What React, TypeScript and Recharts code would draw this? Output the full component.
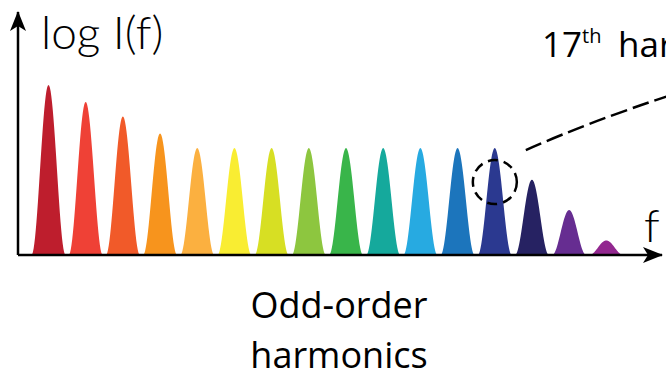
import { BarChart, Bar, Cell, XAxis, YAxis, ReferenceDot } from 'recharts'

// odd harmonic orders and their peak heights on the log axis (0..10)
const orders = [1, 3, 5, 7, 9, 11, 13, 15, 17, 19, 21, 23, 25, 27, 29, 31]
const logIntensity = [7.0, 6.3, 5.7, 5.0, 4.4, 4.4, 4.4, 4.4, 4.4, 4.4, 4.4, 4.4, 4.4, 3.1, 1.85, 0.6]
const peakColors = [
  '#BE1E2D', '#EF4136', '#F15A29', '#F7941D', '#FBB040', '#F9ED32', '#D7DF23', '#8DC63F',
  '#39B54A', '#15A99C', '#27AAE1', '#1C75BC', '#2B3990', '#262262', '#662D91', '#92278F',
]
const markedOrder = 25
const markedLevel = 3.0

const data = orders.map((order, i) => ({ order, level: logIntensity[i] }))

function PeakShape(props: any) {
  const { x, y, width, height, fill } = props
  if (!height) return null
  const cx = x + width / 2
  const base = y + height
  const w = 34
  const steps = 48
  let d = `M${cx - w / 2},${base}`
  for (let i = 0; i <= steps; i++) {
    const t = -w / 2 + (w * i) / steps
    const v = Math.cos((Math.PI * t) / w) ** 2
    d += ` L${(cx + t).toFixed(2)},${(base - v * height).toFixed(2)}`
  }
  d += ' Z'
  return <path d={d} fill={fill} />
}

function Callout(props: any) {
  const { cx, cy, r } = props
  return (
    <g fill="none" stroke="#000" strokeWidth={2.5}>
      <circle cx={cx} cy={cy} r={r} strokeDasharray="10 6" />
      <path d={`M${cx + 31},${cy - 32} Q${cx + 94},${cy - 60} ${cx + 176},${cy - 87}`} strokeDasharray="17 6" />
    </g>
  )
}

export default function App() {
  return (
    <div style={{ width: 666, height: 375 }}>
      <style>{'body{margin:0}'}</style>
      <BarChart
        width={666}
        height={375}
        data={data}
        margin={{ top: 12, right: 4, bottom: 100, left: 0 }}
        barCategoryGap={0}
      >
        <defs>
          <marker
            id="arrowHead"
            markerUnits="userSpaceOnUse"
            markerWidth={24}
            markerHeight={20}
            viewBox="-22 -10 24 20"
            refX={0}
            refY={0}
            orient="auto-start-reverse"
          >
            <path d="M1,0 L-19,-8 L-14,0 L-19,8 Z" fill="#000" />
          </marker>
        </defs>
        <XAxis
          dataKey="order"
          type="category"
          height={20}
          tick={false}
          tickLine={false}
          stroke="#000"
          padding={{ left: 12, right: 37 }}
          axisLine={{ stroke: '#000', strokeWidth: 2.5, markerEnd: 'url(#arrowHead)' }}
        />
        <YAxis
          width={18}
          domain={[0, 10]}
          tick={false}
          tickLine={false}
          stroke="#000"
          axisLine={{ stroke: '#000', strokeWidth: 2.5, markerStart: 'url(#arrowHead)' }}
        />
        <Bar dataKey="level" isAnimationActive={false} shape={<PeakShape />}>
          {data.map((d, i) => (
            <Cell key={d.order} fill={peakColors[i]} />
          ))}
        </Bar>
        <ReferenceDot x={markedOrder} y={markedLevel} r={22} shape={<Callout />} ifOverflow="visible" />
        <text x={41} y={49} fontFamily="Lato" fontWeight={300} fontSize={46} fill="#000">log I(f)</text>
        <text x={644} y={242} fontFamily="Lato" fontWeight={300} fontSize={46} fill="#000">f</text>
        <text x={542} y={57} fontFamily="Open Sans" fontSize={35} fill="#000">
          17
          <tspan fontSize={20} dy={-14}>th</tspan>
          <tspan x={618} dy={14}>harmonic</tspan>
        </text>
        <text x={339} y={318} textAnchor="middle" fontFamily="Open Sans" fontSize={36} fill="#000">Odd-order</text>
        <text x={339} y={368} textAnchor="middle" fontFamily="Open Sans" fontSize={36} fill="#000">harmonics</text>
      </BarChart>
    </div>
  )
}
